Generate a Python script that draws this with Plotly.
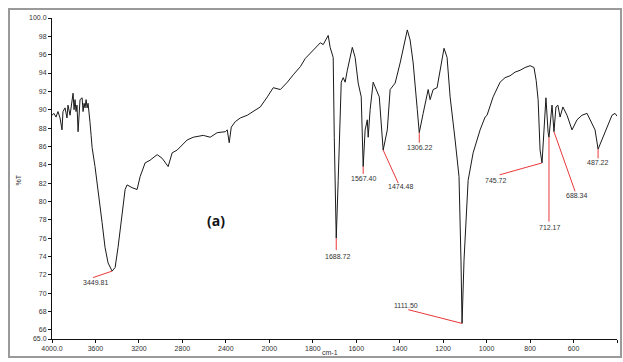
import plotly.graph_objects as go

# ---- spectrum data (wavenumber cm-1, %T) ----
wavenumber = [4000, 3982, 3963, 3945, 3926, 3908, 3899, 3880, 3862, 3853, 3834, 3825, 3806, 3797,
              3788, 3779, 3770, 3760, 3751, 3742, 3723, 3714, 3705, 3696, 3686, 3677, 3668, 3659,
              3650, 3640, 3631, 3604, 3576, 3539, 3512, 3484, 3447, 3419, 3392, 3355, 3327, 3309,
              3263, 3217, 3189, 3143, 3097, 3032, 2986, 2931, 2894, 2848, 2802, 2756, 2700, 2636,
              2608, 2544, 2479, 2405, 2387, 2369, 2350, 2313, 2267, 2203, 2147, 2083, 2018, 1982,
              1949, 1917, 1890, 1857, 1834, 1811, 1788, 1765, 1752, 1733, 1729, 1720, 1706, 1701,
              1692, 1683, 1674, 1669, 1660, 1651, 1641, 1618, 1605, 1591, 1577, 1568, 1559, 1549,
              1545, 1536, 1522, 1503, 1494, 1476, 1457, 1444, 1421, 1398, 1384, 1365, 1352, 1338,
              1319, 1310, 1292, 1269, 1260, 1246, 1228, 1205, 1196, 1182, 1168, 1145, 1127, 1118,
              1113, 1104, 1095, 1085, 1062, 1030, 1007, 998, 970, 938, 915, 892, 869, 846, 823,
              800, 782, 772, 763, 754, 745, 736, 727, 717, 713, 699, 695, 690, 681, 672, 662, 649,
              630, 607, 584, 561, 538, 524, 501, 487, 469, 446, 423, 409, 400]
transmittance = [89.4, 89.6, 89.2, 89.8, 89.1, 87.8, 89.8, 90.2, 89.1, 90.5, 89.4, 90.2, 91.8, 90.0,
                 91.1, 89.8, 90.5, 87.6, 90.0, 91.1, 91.3, 89.8, 90.7, 90.2, 91.1, 90.2, 90.7, 89.1,
                 88.6, 87.2, 85.9, 83.8, 80.9, 77.7, 75.0, 73.3, 72.4, 72.8, 75.0, 78.3, 81.3, 81.8,
                 81.5, 81.3, 82.7, 84.2, 84.5, 85.1, 84.7, 83.8, 85.3, 85.6, 86.2, 86.7, 87.0, 87.1,
                 87.2, 87.0, 87.5, 87.6, 87.8, 86.4, 88.1, 88.7, 89.1, 89.4, 89.8, 90.3, 91.4, 92.4,
                 92.2, 93.0, 93.8, 94.7, 95.6, 96.2, 96.7, 97.3, 97.1, 97.9, 98.1, 96.8, 95.7, 87.0,
                 76.0, 82.3, 90.0, 93.0, 93.5, 93.0, 94.3, 96.8, 95.7, 92.9, 91.4, 83.8, 87.8, 88.9,
                 87.0, 90.0, 93.0, 91.9, 91.4, 85.6, 87.8, 92.2, 92.9, 95.1, 96.5, 98.7, 97.6, 95.1,
                 90.0, 87.5, 89.6, 92.2, 91.1, 92.2, 92.4, 95.4, 96.7, 95.7, 91.4, 86.7, 82.7, 73.6,
                 66.7, 73.6, 78.0, 82.3, 85.3, 87.8, 89.2, 89.4, 91.4, 93.0, 93.5, 93.7, 94.1, 94.3, 94.6,
                 94.8, 94.6, 93.2, 91.1, 85.6, 84.2, 87.5, 91.3, 87.5, 87.0, 90.5, 88.9, 87.6, 90.3, 90.5, 89.2, 90.3,
                 89.4, 87.8, 88.9, 89.4, 89.6, 88.9, 87.8, 85.7, 86.7, 88.1, 89.4, 89.6, 89.3]

# ---- peak labels ----
peak_wn = [3447, 1692, 1568, 1476, 1310, 1113, 745, 713, 690, 487]
peak_t = [72.4, 76.0, 83.8, 85.6, 87.5, 66.7, 84.2, 87.0, 87.6, 85.7]
peak_labels = ["3449.81", "1688.72", "1567.40", "1474.48", "1306.22", "1111.50",
               "745.72", "712.17", "688.34", "487.22"]

# ---- axis ticks ----
x_tick_wn = [4000, 3600, 3200, 2800, 2400, 2000, 1800, 1600, 1400, 1200, 1000, 800, 600, 400]
x_tick_labels = ["4000.0", "3600", "3200", "2800", "2400", "2000", "1800", "1600", "1400",
                 "1200", "1000", "800", "600", "400.0"]
y_tick_vals = [65, 66, 68, 70, 72, 74, 76, 78, 80, 82, 84, 86, 88, 90, 92, 94, 96, 98, 100]
y_tick_labels = ["65.0", "66", "68", "70", "72", "74", "76", "78", "80", "82", "84", "86",
                 "88", "90", "92", "94", "96", "98", "100.0"]

# label placement (line end and text centre, in wavenumber / %T) - layout only
label_line_end = [(3622, 71.7), (1692, 74.7), (1568, 83.0), (1407, 82.0), (1310, 86.4),
                  (1361, 68.2), (940, 82.9), (713, 77.8), (593, 81.1), (487, 84.7)]
label_text_pos = [(3604, 71.2), (1687, 74.0), (1568, 82.5), (1398, 81.6), (1310, 85.9),
                  (1370, 68.7), (955, 82.3), (708, 77.2), (584, 80.6), (487, 84.2)]


def wn_to_u(w):
    """FTIR abscissa with 2x expansion below 2000 cm-1."""
    return (4000 - w) / 400 if w >= 2000 else 5 + (2000 - w) / 200


fig = go.Figure()
fig.add_trace(go.Scatter(x=[wn_to_u(w) for w in wavenumber], y=transmittance,
                         mode="lines", line=dict(color="#1a1a1a", width=1),
                         hoverinfo="skip", showlegend=False))

font_small = dict(family="Liberation Sans, Arial, sans-serif", size=7, color="#333333")
for w, t, lab, le, tp in zip(peak_wn, peak_t, peak_labels, label_line_end, label_text_pos):
    fig.add_trace(go.Scatter(x=[wn_to_u(w), wn_to_u(le[0])], y=[t, le[1]], mode="lines",
                             line=dict(color="#e8383a", width=1), showlegend=False,
                             hoverinfo="skip"))
    fig.add_annotation(x=wn_to_u(tp[0]), y=tp[1], text=lab, showarrow=False,
                       font=font_small, xanchor="center", yanchor="middle")

fig.add_annotation(x=wn_to_u(2490), y=77.9, text="<b>(a)</b>", showarrow=False,
                   font=dict(family="Open Sans, sans-serif", size=14, color="#111111"))

fig.add_annotation(xref="paper", yref="paper", x=(330 - 52) / 565, y=(339 - 358) / 321,
                   text="cm-1", showarrow=False, font=font_small)
fig.add_annotation(xref="paper", yref="paper", x=(12 - 52) / 565, y=(339 - 180) / 321,
                   text="%T", showarrow=False, textangle=-90, font=font_small)

# outer frame
fig.add_shape(type="rect", xref="paper", yref="paper",
              x0=(9 - 52) / 565, x1=(621 - 52) / 565, y0=(339 - 357) / 321, y1=(339 - 9) / 321,
              line=dict(color="#9a9a9a", width=2))

fig.update_layout(
    width=623, height=362,
    margin=dict(l=52, r=6, t=18, b=23),
    paper_bgcolor="white", plot_bgcolor="white",
    xaxis=dict(range=[0, 13], tickvals=[wn_to_u(w) for w in x_tick_wn], ticktext=x_tick_labels,
               showgrid=False, zeroline=False, showline=True, linecolor="#111111", linewidth=1,
               ticks="outside", ticklen=3, tickcolor="#111111", tickfont=font_small),
    yaxis=dict(range=[65, 100], tickvals=y_tick_vals, ticktext=y_tick_labels,
               showgrid=False, zeroline=False, showline=True, linecolor="#111111", linewidth=1,
               ticks="outside", ticklen=3, tickcolor="#111111", tickfont=font_small),
)

fig.write_html("out.html")
